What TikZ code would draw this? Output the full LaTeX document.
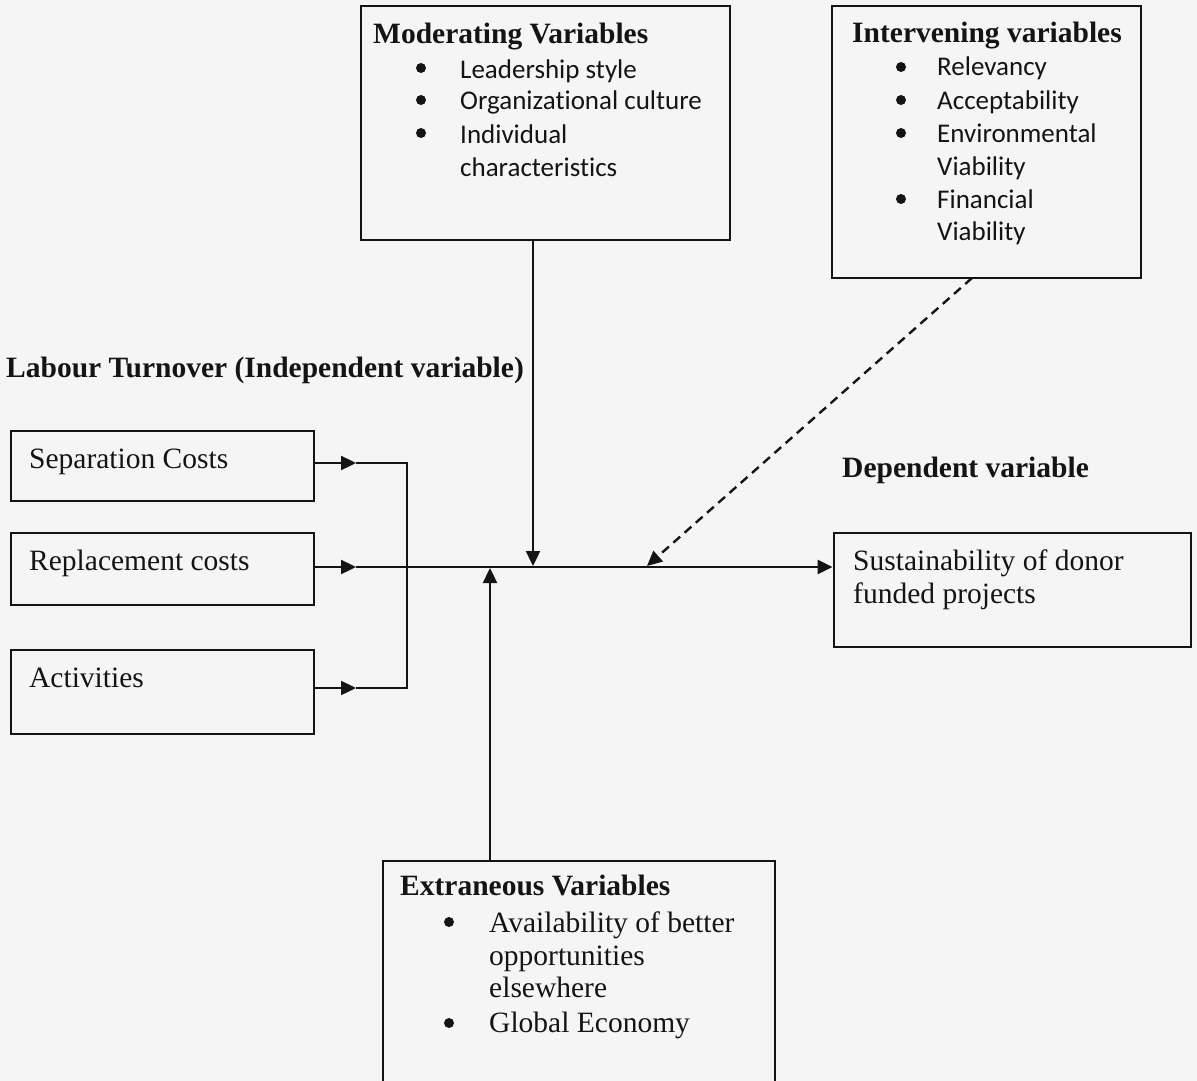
\documentclass[tikz,border=0pt]{standalone}
\usepackage{fontspec}
\setmainfont{Liberation Serif}
\newfontfamily\calfont[Ligatures=NoCommon]{Carlito}
\usetikzlibrary{arrows.meta}
\definecolor{paper}{RGB}{245,245,245}
\definecolor{ink}{RGB}{20,20,20}
\begin{document}
\begin{tikzpicture}[x=1pt,y=-1pt,
  box/.style={draw=ink, line width=2.8pt, inner sep=0pt},
  conn/.style={draw=ink, line width=2.4pt},
  tip/.style={-{Triangle[length=15pt,width=14pt]}},
  lbl/.style={anchor=base west, inner sep=0pt, text=ink, font=\fontsize{29.5}{34}\selectfont},
  hd/.style={anchor=base west, inner sep=0pt, text=ink, font=\fontsize{29.5}{34}\selectfont\bfseries},
  cb/.style={anchor=base west, inner sep=0pt, text=ink, font=\calfont\fontsize{27}{32}\selectfont},
  bul/.style={circle, fill=ink, inner sep=0pt, minimum size=10pt}]
\fill[paper] (0,0) rectangle (1197,1081);
\useasboundingbox (0,0) rectangle (1197,1081);

% boxes
\node[box, minimum width=369pt, minimum height=234pt] (mod) at (545.5,123) {};
\node[box, minimum width=309pt, minimum height=272pt] (int) at (986.5,142) {};
\node[box, minimum width=303pt, minimum height=70pt] (sep) at (162.5,466) {};
\node[box, minimum width=303pt, minimum height=72pt] (rep) at (162.5,569) {};
\node[box, minimum width=303pt, minimum height=84pt] (act) at (162.5,692) {};
\node[box, minimum width=357pt, minimum height=114pt] (sus) at (1012.5,590) {};
\node[box, minimum width=392pt, minimum height=224pt] (ext) at (579,973) {};

% moderating
\node[hd] (modh) at (373,44) {Moderating Variables};
\node[bul] (mb1) at (421,68) {};
\node[bul] (mb2) at (421,100) {};
\node[bul] (mb3) at (421,133) {};
\node[cb] (mt1) at (460,78) {Leadership style};
\node[cb] (mt2) at (460,110) {Organizational culture};
\node[cb] (mt3) at (460,143) {Individual};
\node[cb] (mt4) at (460,176) {characteristics};

% intervening
\node[hd] (inth) at (852,43) {Intervening variables};
\node[bul] (ib1) at (901,67) {};
\node[bul] (ib2) at (901,100) {};
\node[bul] (ib3) at (901,133) {};
\node[bul] (ib4) at (901,199) {};
\node[cb] (it1) at (937,76) {Relevancy};
\node[cb] (it2) at (937,109) {Acceptability};
\node[cb] (it3) at (937,142) {Environmental};
\node[cb] (it4) at (937,175) {Viability};
\node[cb] (it5) at (937,208) {Financial};
\node[cb] (it6) at (937,240) {Viability};

% independent
\node[hd] (title) at (6,377) {Labour Turnover (Independent variable)};
\node[lbl] (sept) at (29,468) {Separation Costs};
\node[lbl] (rept) at (29,570) {Replacement costs};
\node[lbl] (actt) at (29,687) {Activities};

% dependent
\node[hd] (deph) at (842,477) {Dependent variable};
\node[lbl] (sust1) at (853,570) {Sustainability of donor};
\node[lbl] (sust2) at (853,603) {funded projects};

% extraneous
\node[hd] (exth) at (400,895) {Extraneous Variables};
\node[bul] (eb1) at (449,922) {};
\node[bul] (eb2) at (449,1023) {};
\node[lbl] (et1) at (489,932) {Availability of better};
\node[lbl] (et2) at (489,965) {opportunities};
\node[lbl] (et3) at (489,997) {elsewhere};
\node[lbl] (et4) at (489,1032) {Global Economy};

% connectors
\coordinate (sepA) at (356,463);
\coordinate (actA) at (356,688);
\coordinate (joinT) at (407,463);
\coordinate (joinB) at (407,688);
\coordinate (repA) at (356,567);
\coordinate (modT) at (533,566);
\coordinate (extT) at (490,568);
\coordinate (intB) at (972,278);
\coordinate (dashT) at (647,566);

\draw[conn,tip] (sep.east |- sepA) -- (sepA);
\draw[conn,tip] (act.east |- actA) -- (actA);
\draw[conn] (sepA) -- (joinT) -- (joinB) -- (actA);
\draw[conn,tip] (rep.east |- repA) -- (repA);
\draw[conn,tip] (repA) -- (sus.west |- repA);
\draw[conn,tip] (modT |- mod.south) -- (modT);
\draw[conn,tip] (extT |- ext.north) -- (extT);
\draw[conn,tip,dash pattern=on 9pt off 6pt] (intB) -- (dashT);
\end{tikzpicture}
\end{document}
